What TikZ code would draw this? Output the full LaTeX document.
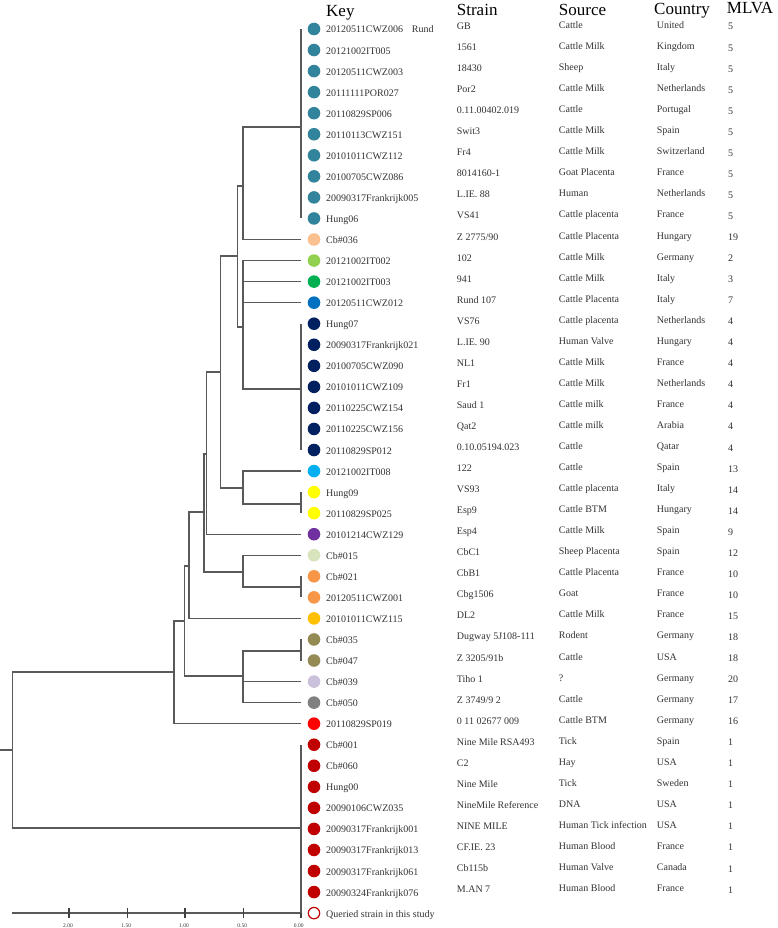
\documentclass[tikz,border=0pt]{standalone}
\usepackage{fontspec}
\setmainfont{Liberation Serif}
\definecolor{cteal}{HTML}{31849B}
\definecolor{cpeach}{HTML}{FAC090}
\definecolor{clgreen}{HTML}{92D050}
\definecolor{cgreen}{HTML}{00B050}
\definecolor{cblue}{HTML}{0070C0}
\definecolor{cnavy}{HTML}{002060}
\definecolor{clblue}{HTML}{00B0F0}
\definecolor{cyellow}{HTML}{FFFF00}
\definecolor{cpurple}{HTML}{7030A0}
\definecolor{cpale}{HTML}{D7E4BD}
\definecolor{corange}{HTML}{F79646}
\definecolor{cgold}{HTML}{FFC000}
\definecolor{colive}{HTML}{948A54}
\definecolor{clav}{HTML}{CCC1DA}
\definecolor{cgray}{HTML}{808080}
\definecolor{cred}{HTML}{FF0000}
\definecolor{cdred}{HTML}{C00000}
\newcommand\leafrow[7]{%
  \pgfmathsetmacro\yy{29+(#1-1)*21.05}%
  \node[dot, fill=#2] (l#1) at (314,\yy) {};
  \coordinate (a#1) at (301,\yy);
  \node[lab] (k#1) at (326,\yy+4) {#3};
  \node[lab] (s#1) at (456.7,\yy+0.5) {#4};
  \node[lab] (o#1) at (558.7,\yy-0.5) {#5};
  \node[lab] (c#1) at (656.7,\yy-0.5) {#6};
  \node[lab] (m#1) at (728,\yy+1) {#7};
}
\begin{document}
\begin{tikzpicture}[x=1pt,y=-1pt,
  dot/.style={circle,inner sep=0pt,minimum size=12.6pt,draw=none},
  lab/.style={anchor=base west,inner sep=0pt,font=\fontsize{10}{12}\selectfont,text=black!80},
  hdr/.style={anchor=base west,inner sep=0pt,font=\fontsize{17}{20}\selectfont},
  br/.style={draw=black!65,line width=1.3pt},
  tick/.style={draw=black!75,line width=1.2pt},
  ticklab/.style={anchor=base,inner sep=0pt,font=\fontsize{5.5}{6}\selectfont,text=black!80}]
\useasboundingbox (0,0) rectangle (777,928);
\fill[white] (0,0) rectangle (777,928);

% headers
\node[hdr] (hkey) at (326,17) {Key};
\node[hdr] (hstr) at (456.7,16) {Strain};
\node[hdr] (hsrc) at (558.7,16) {Source};
\node[hdr] (hcty) at (654,15) {Country};
\node[hdr] (hmlva) at (726.7,14) {MLVA};

% leaves
\leafrow{1}{cteal}{20120511CWZ006}{GB}{Cattle}{United}{5}
\leafrow{2}{cteal}{20121002IT005}{1561}{Cattle Milk}{Kingdom}{5}
\leafrow{3}{cteal}{20120511CWZ003}{18430}{Sheep}{Italy}{5}
\leafrow{4}{cteal}{20111111POR027}{Por2}{Cattle Milk}{Netherlands}{5}
\leafrow{5}{cteal}{20110829SP006}{0.11.00402.019}{Cattle}{Portugal}{5}
\leafrow{6}{cteal}{20110113CWZ151}{Swit3}{Cattle Milk}{Spain}{5}
\leafrow{7}{cteal}{20101011CWZ112}{Fr4}{Cattle Milk}{Switzerland}{5}
\leafrow{8}{cteal}{20100705CWZ086}{8014160-1}{Goat Placenta}{France}{5}
\leafrow{9}{cteal}{20090317Frankrijk005}{L.IE. 88}{Human}{Netherlands}{5}
\leafrow{10}{cteal}{Hung06}{VS41}{Cattle placenta}{France}{5}
\leafrow{11}{cpeach}{Cb\#036}{Z 2775/90}{Cattle Placenta}{Hungary}{19}
\leafrow{12}{clgreen}{20121002IT002}{102}{Cattle Milk}{Germany}{2}
\leafrow{13}{cgreen}{20121002IT003}{941}{Cattle Milk}{Italy}{3}
\leafrow{14}{cblue}{20120511CWZ012}{Rund 107}{Cattle Placenta}{Italy}{7}
\leafrow{15}{cnavy}{Hung07}{VS76}{Cattle placenta}{Netherlands}{4}
\leafrow{16}{cnavy}{20090317Frankrijk021}{L.IE. 90}{Human Valve}{Hungary}{4}
\leafrow{17}{cnavy}{20100705CWZ090}{NL1}{Cattle Milk}{France}{4}
\leafrow{18}{cnavy}{20101011CWZ109}{Fr1}{Cattle Milk}{Netherlands}{4}
\leafrow{19}{cnavy}{20110225CWZ154}{Saud 1}{Cattle milk}{France}{4}
\leafrow{20}{cnavy}{20110225CWZ156}{Qat2}{Cattle milk}{Arabia}{4}
\leafrow{21}{cnavy}{20110829SP012}{0.10.05194.023}{Cattle}{Qatar}{4}
\leafrow{22}{clblue}{20121002IT008}{122}{Cattle}{Spain}{13}
\leafrow{23}{cyellow}{Hung09}{VS93}{Cattle placenta}{Italy}{14}
\leafrow{24}{cyellow}{20110829SP025}{Esp9}{Cattle BTM}{Hungary}{14}
\leafrow{25}{cpurple}{20101214CWZ129}{Esp4}{Cattle Milk}{Spain}{9}
\leafrow{26}{cpale}{Cb\#015}{CbC1}{Sheep Placenta}{Spain}{12}
\leafrow{27}{corange}{Cb\#021}{CbB1}{Cattle Placenta}{France}{10}
\leafrow{28}{corange}{20120511CWZ001}{Cbg1506}{Goat}{France}{10}
\leafrow{29}{cgold}{20101011CWZ115}{DL2}{Cattle Milk}{France}{15}
\leafrow{30}{colive}{Cb\#035}{Dugway 5J108-111}{Rodent}{Germany}{18}
\leafrow{31}{colive}{Cb\#047}{Z 3205/91b}{Cattle}{USA}{18}
\leafrow{32}{clav}{Cb\#039}{Tiho 1}{?}{Germany}{20}
\leafrow{33}{cgray}{Cb\#050}{Z 3749/9 2}{Cattle}{Germany}{17}
\leafrow{34}{cred}{20110829SP019}{0 11 02677 009}{Cattle BTM}{Germany}{16}
\leafrow{35}{cdred}{Cb\#001}{Nine Mile RSA493}{Tick}{Spain}{1}
\leafrow{36}{cdred}{Cb\#060}{C2}{Hay}{USA}{1}
\leafrow{37}{cdred}{Hung00}{Nine Mile}{Tick}{Sweden}{1}
\leafrow{38}{cdred}{20090106CWZ035}{NineMile Reference}{DNA}{USA}{1}
\leafrow{39}{cdred}{20090317Frankrijk001}{NINE MILE}{Human Tick infection}{USA}{1}
\leafrow{40}{cdred}{20090317Frankrijk013}{CF.IE. 23}{Human Blood}{France}{1}
\leafrow{41}{cdred}{20090317Frankrijk061}{Cb115b}{Human Valve}{Canada}{1}
\leafrow{42}{cdred}{20090324Frankrijk076}{M.AN 7}{Human Blood}{France}{1}

\node[lab] (rund) at (411.7,33) {Rund};

% legend
\pgfmathsetmacro\yl{29+42*21.05}
\node[dot, draw=cdred, line width=1.2pt, fill=white, minimum size=11.4pt] (qleg) at (314,\yl) {};
\node[lab] (qtxt) at (326,\yl+4) {Queried strain in this study};

% tree internal coordinates
\coordinate (cT) at (301,127);
\coordinate (n1) at (243,186);
\coordinate (nA) at (237.3,256);
\coordinate (nB) at (243,327);
\coordinate (cN) at (301,389);
\coordinate (nC) at (220.7,372);
\coordinate (nD) at (243,488);
\coordinate (cY) at (301,504);
\coordinate (nE) at (206.7,454);
\coordinate (nF) at (204,512);
\coordinate (nG) at (243,572);
\coordinate (cO) at (301,587);
\coordinate (nH) at (189,566);
\coordinate (nI) at (184.3,621);
\coordinate (nJ) at (243,676);
\coordinate (cL) at (301,651);
\coordinate (nK) at (174,672);
\coordinate (nR) at (12.3,750);
\coordinate (cR) at (301,828);
\coordinate (stub) at (0,750);
\coordinate (sbL) at (12.3,913);
\coordinate (sbR) at (301,913);

% clusters (zero-length)
\draw[br] (a1) -- (a10);
\draw[br] (a15) -- (a21);
\draw[br] (a23) -- (a24);
\draw[br] (a27) -- (a28);
\draw[br] (a30) -- (a31);
\draw[br] (a35) -- (sbR);

% branches
\draw[br] (n1) |- (cT);
\draw[br] (n1) |- (a11);
\draw[br] (nA) |- (n1);
\draw[br] (nA) |- (nB);
\draw[br] (nB) |- (a12);
\draw[br] (nB) |- (a13);
\draw[br] (nB) |- (a14);
\draw[br] (nB) |- (cN);
\draw[br] (nC) |- (nA);
\draw[br] (nC) |- (nD);
\draw[br] (nD) |- (a22);
\draw[br] (nD) |- (cY);
\draw[br] (nE) |- (nC);
\draw[br] (nE) |- (a25);
\draw[br] (nF) |- (nE);
\draw[br] (nF) |- (nG);
\draw[br] (nG) |- (a26);
\draw[br] (nG) |- (cO);
\draw[br] (nH) |- (nF);
\draw[br] (nH) |- (a29);
\draw[br] (nI) |- (nH);
\draw[br] (nI) |- (nJ);
\draw[br] (nJ) |- (cL);
\draw[br] (nJ) |- (a32);
\draw[br] (nJ) |- (a33);
\draw[br] (nK) |- (nI);
\draw[br] (nK) |- (a34);
\draw[br] (nR) |- (nK);
\draw[br] (nR) |- (cR);
\draw[br] (stub) -- (nR);

% scale bar
\draw[br] (sbL) -- (sbR);
\foreach \tx/\tl [count=\ti] in {69/2.00,127.3/1.50,185/1.00,243.3/0.50}{
  \coordinate (tk\ti) at (\tx,913);
  \draw[tick] ([yshift=-5pt]tk\ti) -- ([yshift=5pt]tk\ti);
  \node[ticklab] (tl\ti) at (\tx-1,927.3) {\tl};
}
\draw[tick] (sbR) -- ++(0,5);
\node[ticklab] (tl0) at (298.7,927.3) {0.00};
\end{tikzpicture}
\end{document}
